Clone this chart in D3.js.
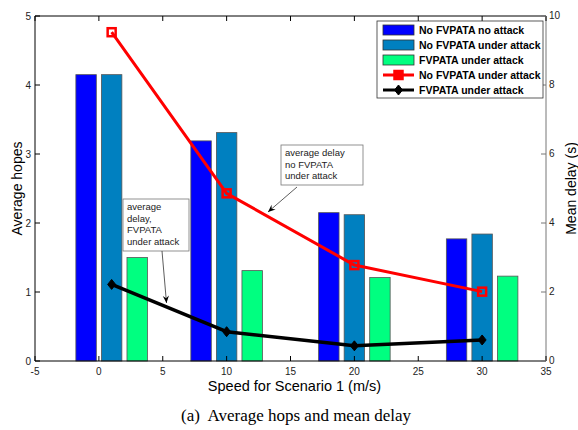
<!DOCTYPE html>
<html><head><meta charset="utf-8">
<script src="https://cdn.jsdelivr.net/npm/d3@7/dist/d3.min.js"></script>
<style>body{margin:0;background:#fff}svg{display:block}</style>
</head><body>
<svg id="c" width="578" height="430"></svg>
<script>
const speeds = [1, 10, 20, 30];
const hopsNoFvNoAttack = [4.15, 3.19, 2.15, 1.77];
const hopsNoFvAttack = [4.15, 3.31, 2.12, 1.84];
const hopsFvAttack = [1.50, 1.31, 1.21, 1.23];
const delayNoFvAttack = [9.53, 4.86, 2.78, 2.01];
const delayFvAttack = [2.22, 0.85, 0.44, 0.61];
const xTicks = [-5, 0, 5, 10, 15, 20, 25, 30, 35];
const yLeftTicks = [0, 1, 2, 3, 4, 5];
const yRightTicks = [0, 2, 4, 6, 8, 10];
const barSeries = [
  {name: "No FVPATA no attack", values: hopsNoFvNoAttack, offset: -2, color: "#0000ff"},
  {name: "No FVPATA under attack", values: hopsNoFvAttack, offset: 0, color: "#0080c0"},
  {name: "FVPATA under attack", values: hopsFvAttack, offset: 2, color: "#00ff80"}
];
const lineSeries = [
  {name: "No FVPATA under attack", values: delayNoFvAttack, color: "#ff0000", marker: "square"},
  {name: "FVPATA under attack", values: delayFvAttack, color: "#000000", marker: "diamond"}
];

const svg = d3.select("#c");
const L = 35, R = 546, T = 16, B = 361;
const x = d3.scaleLinear().domain([-5, 35]).range([L, R]);
const yL = d3.scaleLinear().domain([0, 5]).range([B, T]);
const yR = d3.scaleLinear().domain([0, 10]).range([B, T]);
const font = "Liberation Sans, Arial, sans-serif";

// bars
const bw = x(1.6) - x(0);
barSeries.forEach(s => {
  svg.append("g").selectAll("rect").data(speeds).join("rect")
    .attr("x", (d) => x(d + s.offset) - bw / 2)
    .attr("y", (d, i) => yL(s.values[i]))
    .attr("width", bw)
    .attr("height", (d, i) => yL(0) - yL(s.values[i]))
    .attr("fill", s.color)
    .attr("stroke", "#555").attr("stroke-width", 0.8);
});

// axes
const ax = svg.append("g").attr("font-family", font).attr("font-size", 10).attr("fill", "#222");
ax.append("line").attr("x1", L).attr("x2", R).attr("y1", B).attr("y2", B).attr("stroke", "#000");
ax.append("line").attr("x1", L).attr("x2", R).attr("y1", T).attr("y2", T).attr("stroke", "#000");
ax.append("line").attr("x1", L).attr("x2", L).attr("y1", T).attr("y2", B).attr("stroke", "#000");
ax.append("line").attr("x1", R).attr("x2", R).attr("y1", T).attr("y2", B).attr("stroke", "#777");
xTicks.forEach(t => {
  ax.append("line").attr("x1", x(t)).attr("x2", x(t)).attr("y1", B).attr("y2", B - 5).attr("stroke", "#000");
  ax.append("line").attr("x1", x(t)).attr("x2", x(t)).attr("y1", T).attr("y2", T + 5).attr("stroke", "#000");
  ax.append("text").attr("x", x(t)).attr("y", B + 14).attr("text-anchor", "middle").text(t);
});
yLeftTicks.forEach(t => {
  ax.append("line").attr("x1", L).attr("x2", L + 5).attr("y1", yL(t)).attr("y2", yL(t)).attr("stroke", "#000");
  ax.append("text").attr("x", L - 4).attr("y", yL(t) + 3.5).attr("text-anchor", "end").text(t);
});
yRightTicks.forEach(t => {
  ax.append("line").attr("x1", R).attr("x2", R - 5).attr("y1", yR(t)).attr("y2", yR(t)).attr("stroke", "#777");
  ax.append("text").attr("x", R + 3).attr("y", yR(t) + 3).attr("text-anchor", "start").text(t);
});

// axis labels
svg.append("text").attr("transform", `translate(22,${(T + B) / 2}) rotate(-90)`)
  .attr("text-anchor", "middle").attr("font-family", font).attr("font-size", 14).text("Average hopes");
svg.append("text").attr("transform", `translate(576,${(T + B) / 2}) rotate(-90)`)
  .attr("text-anchor", "middle").attr("font-family", font).attr("font-size", 14).text("Mean delay (s)");
svg.append("text").attr("x", (L + R) / 2 + 4).attr("y", 391)
  .attr("text-anchor", "middle").attr("font-family", font).attr("font-size", 14.5).text("Speed for Scenario 1 (m/s)");
svg.append("text").attr("x", 296).attr("y", 421)
  .attr("text-anchor", "middle").attr("font-family", "Liberation Serif, Times New Roman, serif").attr("font-size", 17)
  .attr("xml:space", "preserve").text("(a)  Average hops and mean delay");

// lines
function marker(g, type, cx, cy, color, filled) {
  if (type === "square") {
    g.append("rect").attr("x", cx - 4).attr("y", cy - 4).attr("width", 8).attr("height", 8)
      .attr("fill", filled ? color : "none").attr("stroke", color).attr("stroke-width", 2.5);
  } else {
    g.append("path").attr("d", `M${cx},${cy - 5}L${cx + 4},${cy}L${cx},${cy + 5}L${cx - 4},${cy}Z`)
      .attr("fill", color).attr("stroke", color).attr("stroke-width", 1);
  }
}
lineSeries.forEach(s => {
  const g = svg.append("g");
  const line = d3.line().x((d, i) => x(speeds[i])).y(d => yR(d));
  g.append("path").attr("d", line(s.values)).attr("fill", "none")
    .attr("stroke", s.color).attr("stroke-width", s.marker === "square" ? 3 : 3.5).attr("stroke-linejoin", "round");
  s.values.forEach((v, i) => marker(g, s.marker, x(speeds[i]), yR(v), s.color, false));
});

// annotations
function arrow(x1, y1, x2, y2) {
  const g = svg.append("g");
  g.append("line").attr("x1", x1).attr("y1", y1).attr("x2", x2).attr("y2", y2).attr("stroke", "#333").attr("stroke-width", 0.8);
  const a = Math.atan2(y2 - y1, x2 - x1), len = 8, w = 0.4;
  const p1 = [x2 - len * Math.cos(a - w), y2 - len * Math.sin(a - w)];
  const p2 = [x2 - len * Math.cos(a + w), y2 - len * Math.sin(a + w)];
  const pm = [x2 - len * 0.6 * Math.cos(a), y2 - len * 0.6 * Math.sin(a)];
  g.append("path").attr("d", `M${x2},${y2}L${p1[0]},${p1[1]}L${pm[0]},${pm[1]}L${p2[0]},${p2[1]}Z`).attr("fill", "#000");
}
function box(x0, y0, w, h, lines) {
  svg.append("rect").attr("x", x0).attr("y", y0).attr("width", w).attr("height", h)
    .attr("fill", "#fff").attr("stroke", "#777").attr("stroke-width", 0.8);
  lines.forEach((t, i) => svg.append("text").attr("x", x0 + 4).attr("y", y0 + 11 + i * 11.5)
    .attr("font-family", font).attr("font-size", 9.5).attr("fill", "#222").text(t));
}
box(281, 145, 82, 40, ["average delay", "no FVPATA", "under attack"]);
arrow(297, 187, 268, 212);
box(123, 199, 66, 52, ["average", "delay,", "FVPATA", "under attack"]);
arrow(162, 251, 166.5, 303);

// legend
const lg = svg.append("g").attr("font-family", font).attr("font-size", 10.5).attr("font-weight", "bold");
lg.append("rect").attr("x", 377).attr("y", 21).attr("width", 166).attr("height", 77)
  .attr("fill", "#fff").attr("stroke", "#333").attr("stroke-width", 0.8);
const rowY = [30, 45, 60, 75, 90];
barSeries.forEach((s, i) => {
  lg.append("rect").attr("x", 383).attr("y", rowY[i] - 5).attr("width", 31).attr("height", 10)
    .attr("fill", s.color).attr("stroke", "#333").attr("stroke-width", 0.8);
  lg.append("text").attr("x", 419).attr("y", rowY[i] + 4).text(s.name);
});
lineSeries.forEach((s, j) => {
  const yy = rowY[3 + j];
  lg.append("line").attr("x1", 383).attr("x2", 414).attr("y1", yy).attr("y2", yy)
    .attr("stroke", s.color).attr("stroke-width", 3);
  marker(lg, s.marker, 398.5, yy, s.color, true);
  lg.append("text").attr("x", 419).attr("y", yy + 4).text(s.name);
});
</script>
</body></html>
